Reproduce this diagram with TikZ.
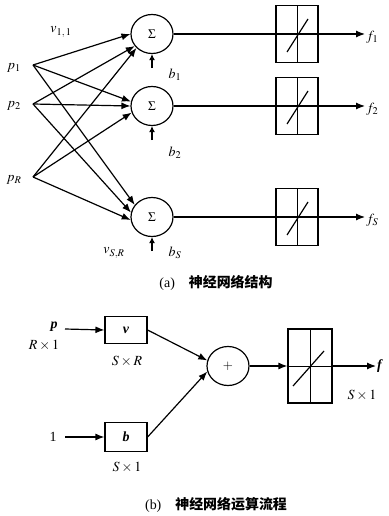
\documentclass[tikz,border=0pt]{standalone}
\usepackage{mathptmx}
\usepackage[no-math]{fontspec}
\setmainfont{Liberation Serif}
\newfontfamily\cjk{Noto Sans CJK SC}
\usetikzlibrary{arrows.meta,positioning}
\tikzset{
  sumnode/.style={draw,ellipse,line width=1.2pt,minimum width=42bp,minimum height=39bp,inner sep=0pt},
  actbox/.style={draw,line width=1.2pt,minimum width=42bp,minimum height=57bp,
    path picture={
      \draw[line width=1pt] (path picture bounding box.north) -- (path picture bounding box.south);
      \draw[line width=1pt] (path picture bounding box.west) -- (path picture bounding box.east);}},
  wbox/.style={draw,line width=1.2pt,minimum width=42bp,minimum height=28bp,inner sep=0pt},
  lbl/.style={inner sep=1pt},
  ln/.style={line width=1.2pt},
  fl/.style={ln,-{Latex[length=9pt,width=7pt]}},
  sfl/.style={ln,-{Latex[length=6pt,width=6pt]}},
}
\usetikzlibrary{shapes.geometric}

\begin{document}
\begin{tikzpicture}[x=1bp, y=-1bp, font=\fontsize{14}{16}\selectfont]
  \useasboundingbox (0,0) rectangle (388,516);
  % (a) structure
  \node[lbl] (p1) at (14,68) {$p_1$};
  \node[lbl] (p2) at (14,106) {$p_2$};
  \node[lbl] (pR) at (14,180) {$p_R$};
  \coordinate (i1) at (33,65);
  \coordinate (i2) at (33,104);
  \coordinate (iR) at (33,177);
  \node[sumnode] (s1) at (152,34) {\fontsize{13}{14}\selectfont$\Sigma$};
  \node[sumnode] (s2) at (152,106) {\fontsize{13}{14}\selectfont$\Sigma$};
  \node[sumnode] (sS) at (152,217) {\fontsize{13}{14}\selectfont$\Sigma$};
  \draw[fl] (i1) -- (s1.180);
  \draw[fl] (i1) -- (s2.168);
  \draw[fl] (i1) -- (sS.145);
  \draw[fl] (i2) -- (s1.215);
  \draw[fl] (i2) -- (s2.west);
  \draw[fl] (i2) -- (sS.168);
  \draw[fl] (iR) -- (s1.222);
  \draw[fl] (iR) -- (s2.198);
  \draw[fl] (iR) -- (sS.188);
  \node[lbl] (v11) at (61,32) {$v_{1,\,1}$};
  \node[lbl] (vSR) at (114,253) {$v_{S,R}$};
  % biases
  \draw[sfl] ([yshift=-14bp]s1.south) -- (s1.south);
  \draw[sfl] ([yshift=-14bp]s2.south) -- (s2.south);
  \draw[sfl] ([yshift=-14bp]sS.south) -- (sS.south);
  \node[lbl] (b1) at (175,75) {$b_1$};
  \node[lbl] (b2) at (175,153) {$b_2$};
  \node[lbl] (bS) at (175,253) {$b_S$};
  % transfer functions
  \node[actbox] (a1) at (297,34) {};
  \node[actbox] (a2) at (297,106) {};
  \node[actbox] (aS) at (297,217) {};
  \node[lbl,anchor=west] (f1) at (365,37) {$f_1$};
  \node[lbl,anchor=west] (f2) at (365,109) {$f_2$};
  \node[lbl,anchor=west] (fS) at (365,220) {$f_S$};
  \draw[fl] (s1.east) -- (s1.east -| f1.west);
  \draw[fl] (s2.east) -- (s2.east -| f2.west);
  \draw[fl] (sS.east) -- (sS.east -| fS.west);
  \foreach \a in {a1,a2,aS}
    \draw[ln] ([shift={(-10,18)}]\a.center) -- ([shift={(11,-15)}]\a.center);
  \node (capa) at (216,283) {(a)\quad{\cjk\bfseries\fontsize{14}{16}\selectfont 神经网络结构}};

  % (b) flow
  \node[lbl] (pin) at (54,327) {\textbf{\textit{p}}};
  \node[lbl] (pdim) at (44,345) {$R\times 1$};
  \node[lbl] (one) at (53,437) {1};
  \coordinate (ip) at (65,329);
  \coordinate (io) at (65,437);
  \node[wbox,minimum height=27bp] (vb) at (126,330) {\textbf{\textit{v}}};
  \node[wbox,minimum height=29bp] (bb) at (126,437) {\textbf{\textit{b}}};
  \node[lbl] (vdim) at (127,361) {$S\times R$};
  \node[lbl] (bdim) at (127,467) {$S\times 1$};
  \draw[fl] (ip) -- (vb.west);
  \draw[fl] (io) -- (bb.west);
  \node[sumnode] (plus) at (228,366) {\fontsize{13}{14}\selectfont$+$};
  \draw[fl] (vb.east) -- (plus.165);
  \draw[fl] (bb.east) -- (plus.195);
  \node[actbox,minimum width=44bp,minimum height=74bp] (ab) at (310,366) {};
  \draw[ln] ([shift={(-17,20)}]ab.center) -- ([shift={(14,-15)}]ab.center);
  \node[lbl,anchor=west] (fo) at (376,366) {\textbf{\textit{f}}};
  \node[lbl] (fdim) at (362,395) {$S\times 1$};
  \draw[fl] (plus.east) -- (ab.west);
  \draw[fl] (ab.east) -- (fo.west);
  \node (capb) at (216,505) {(b)\quad{\cjk\bfseries\fontsize{14}{16}\selectfont 神经网络运算流程}};
\end{tikzpicture}
\end{document}
